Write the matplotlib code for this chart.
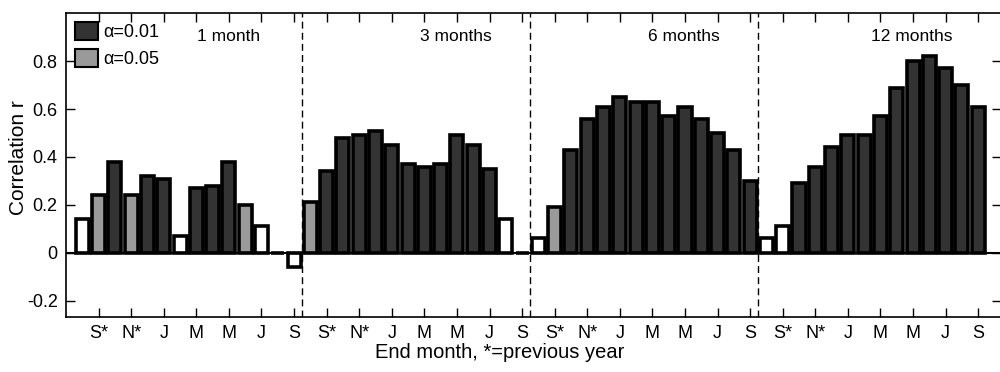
import matplotlib; matplotlib.use('Agg')
from matplotlib import pyplot as plt
from matplotlib.patches import Patch
import numpy as np

plt.rcParams['font.family'] = ['Liberation Sans', 'DejaVu Sans']

# end months, Aug of previous year through Sep
months = ['A*', 'S*', 'O*', 'N*', 'D*', 'J', 'F', 'M', 'A', 'M', 'J', 'J', 'A', 'S']
windows = ['1 month', '3 months', '6 months', '12 months']

r_1 = [0.14, 0.24, 0.38, 0.24, 0.32, 0.31, 0.07, 0.27, 0.28, 0.38, 0.20, 0.11, 0.0, -0.06]
r_3 = [0.21, 0.34, 0.48, 0.49, 0.51, 0.45, 0.37, 0.36, 0.37, 0.49, 0.45, 0.35, 0.14, 0.0]
r_6 = [0.06, 0.19, 0.43, 0.56, 0.61, 0.65, 0.63, 0.63, 0.57, 0.61, 0.56, 0.50, 0.43, 0.30]
r_12 = [0.06, 0.11, 0.29, 0.36, 0.44, 0.49, 0.49, 0.57, 0.69, 0.80, 0.82, 0.77, 0.70, 0.61]

# significance: 1 -> alpha=0.01, 5 -> alpha=0.05, 0 -> not significant
sig_1 = [0, 5, 1, 5, 1, 1, 0, 1, 1, 1, 5, 0, 0, 0]
sig_3 = [5, 1, 1, 1, 1, 1, 1, 1, 1, 1, 1, 1, 0, 0]
sig_6 = [0, 5, 1, 1, 1, 1, 1, 1, 1, 1, 1, 1, 1, 1]
sig_12 = [0, 0, 1, 1, 1, 1, 1, 1, 1, 1, 1, 1, 1, 1]

colors = {1: '#333333', 5: '#9a9a9a', 0: 'white'}

vals = r_1 + r_3 + r_6 + r_12
sigs = sig_1 + sig_3 + sig_6 + sig_12
nm = len(months)
x = np.arange(len(vals))

fig = plt.figure(figsize=(10, 3.72), dpi=100)
ax = fig.add_axes([0.066, 0.149, 0.935, 0.815])

ax.bar(x, vals, width=0.8, color=[colors[s] for s in sigs],
       edgecolor='black', linewidth=2.6, zorder=3)
ax.axhline(0, color='black', lw=1.5, zorder=4)

for p in range(1, len(windows)):
    ax.axvline(p * nm - 0.5, color='black', lw=1.0, ls=(0, (5, 3)), zorder=2)
for p, w in enumerate(windows):
    ax.text(p * nm + 8.95, 0.905, w, ha='center', va='center', fontsize=12.5)

ticks = [p * nm + i for p in range(len(windows)) for i in range(1, nm, 2)]
ax.set_xticks(ticks)
ax.set_xticklabels([months[i] for p in range(len(windows)) for i in range(1, nm, 2)])
ax.set_xlim(-1.0, 56.4)
ax.set_ylim(-0.267, 1.0)
ax.set_yticks([-0.2, 0, 0.2, 0.4, 0.6, 0.8])
ax.set_yticklabels(['-0.2', '0', '0.2', '0.4', '0.6', '0.8'])
ax.tick_params(direction='in', length=6.5, width=1, labelsize=13,
               top=True, right=True, pad=6)
for s in ax.spines.values():
    s.set_linewidth(1.2)

fig.text(0.019, 0.577, 'Correlation r', rotation=90, ha='center', va='center',
         fontsize=15)
fig.text(0.5, 0.0376, 'End month, *=previous year', ha='center', va='baseline',
         fontsize=14.5)

handles = [Patch(facecolor=colors[1], edgecolor='black', lw=1.5, label='α=0.01'),
           Patch(facecolor=colors[5], edgecolor='black', lw=1.5, label='α=0.05')]
ax.legend(handles=handles, loc='upper left', frameon=False, fontsize=13,
          handlelength=1.25, handleheight=1.15, handletextpad=0.3,
          labelspacing=0.4, borderaxespad=0.2, borderpad=0.3)

plt.savefig('out.png')
